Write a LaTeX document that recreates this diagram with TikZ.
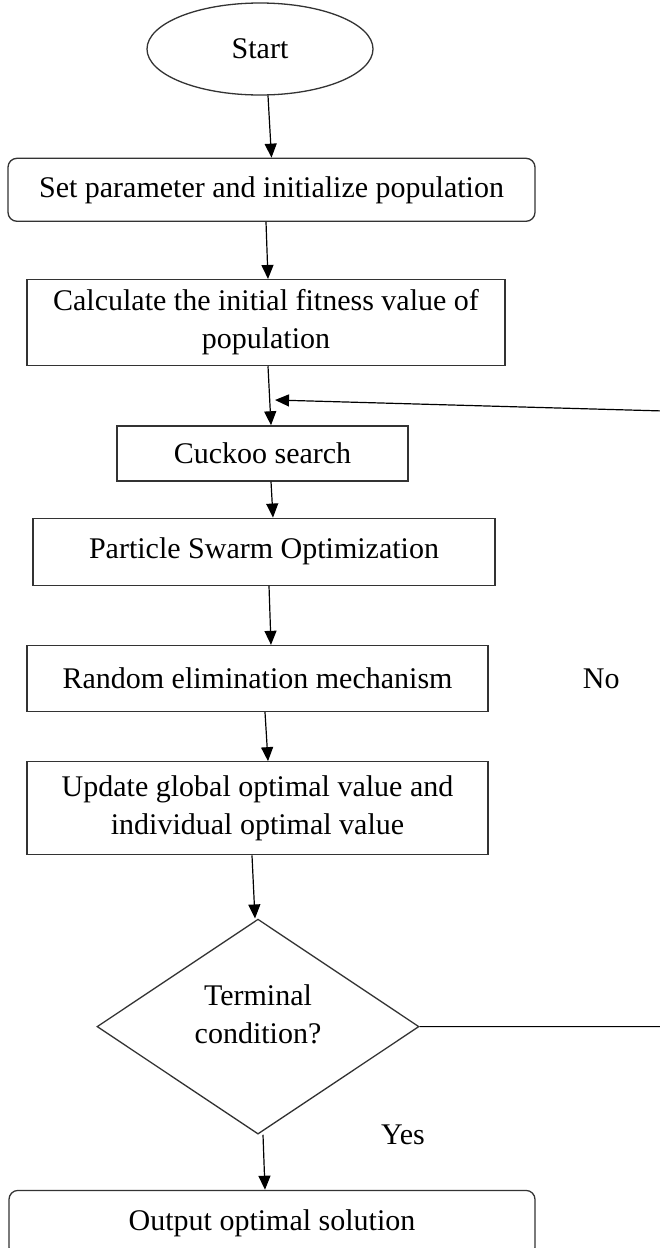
\documentclass[tikz,border=0pt]{standalone}
\usepackage{fontspec}
\setmainfont{Liberation Serif}
\usepackage{tikz}
\usetikzlibrary{shapes.geometric,arrows.meta,positioning,calc}

\begin{document}
\begin{tikzpicture}[
  font=\fontsize{30pt}{38pt}\selectfont,
  box/.style={rectangle, draw=black!80, line width=1.3pt, inner sep=0pt, align=center},
  rbox/.style={box, rounded corners=9pt},
  startnode/.style={ellipse, draw=black!80, line width=1.3pt, inner sep=0pt,
                    minimum width=226pt, minimum height=92pt},
  decide/.style={diamond, draw=black!80, line width=1.3pt, inner sep=0pt, align=center,
                 minimum width=322pt, minimum height=215pt},
  lbl/.style={inner sep=0pt},
  arr/.style={-{Triangle[length=14pt, width=12pt]}, line width=1.2pt}
]
  \useasboundingbox (0,0) rectangle (660pt,-1248pt);

  \node[startnode] (start) at (260pt,-49pt) {Start};
  \node[rbox, minimum width=527pt, minimum height=63pt, below=62pt of start, xshift=11.5pt] (setpar)
    {Set parameter and initialize population};
  \node[box, minimum width=478pt, minimum height=86pt, below=57pt of setpar, xshift=-5.5pt] (calc)
    {Calculate the initial fitness value of\\population};
  \node[box, minimum width=291pt, minimum height=55pt, below=59pt of calc, xshift=-3.5pt] (cuckoo)
    {Cuckoo search};
  \node[box, minimum width=462pt, minimum height=67pt, below=36pt of cuckoo, xshift=1.5pt] (pso)
    {Particle Swarm Optimization};
  \node[box, minimum width=461pt, minimum height=66pt, below=59pt of pso, xshift=-6.5pt] (elim)
    {Random elimination mechanism};
  \node[box, minimum width=461pt, minimum height=93pt, below=49pt of elim] (update)
    {Update global optimal value and\\individual optimal value};
  \node[decide, below=63pt of update, xshift=0.5pt] (cond)
    {Terminal\\condition?\rule[-26pt]{0pt}{0pt}};
  \node[rbox, minimum width=526pt, minimum height=66pt, below=55pt of cond, xshift=14pt] (output)
    {Output optimal solution};

  \node[lbl, right=94pt of elim] (no) {No};
  \node[lbl, right=123pt of cond.south] (yes) {Yes};

  \coordinate (back) at (275pt,-400pt);
  \coordinate (edge) at (664pt,-411pt);

  \draw[arr] ([xshift=8pt]start.south) -- (setpar.north);
  \draw[arr] ([xshift=-5.5pt]setpar.south) -- ([xshift=2pt]calc.north);
  \draw[arr] ([xshift=2pt]calc.south) -- ([xshift=8.5pt]cuckoo.north);
  \draw[arr] ([xshift=8.5pt]cuckoo.south) -- ([xshift=9pt]pso.north);
  \draw[arr] ([xshift=5pt]pso.south) -- ([xshift=13.5pt]elim.north);
  \draw[arr] ([xshift=7.5pt]elim.south) -- ([xshift=10.5pt]update.north);
  \draw[arr] ([xshift=-5.5pt]update.south) -- ([xshift=-3pt]cond.north);
  \draw[arr] ([xshift=5pt]cond.south) -- ([xshift=-7pt]output.north);
  \draw[arr] (cond.east) -- (cond.east -| edge) -- (edge) -- (back);
\end{tikzpicture}
\end{document}
